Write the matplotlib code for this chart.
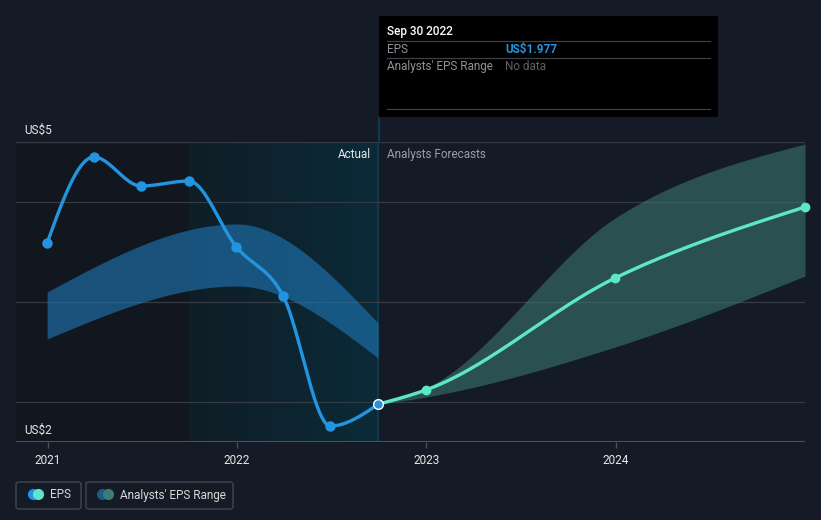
import numpy as np
import matplotlib
matplotlib.use("Agg")
import matplotlib.pyplot as plt
import matplotlib.dates as mdates
from matplotlib.patches import FancyBboxPatch, Rectangle
from matplotlib.colors import LinearSegmentedColormap
import datetime as dt

# --- données ---
eps_dates = ["2020-12-31", "2021-03-31", "2021-06-30", "2021-09-30",
             "2021-12-31", "2022-03-31", "2022-06-30", "2022-09-30"]
eps_values = [3.59, 4.45, 4.16, 4.21, 3.55, 3.06, 1.76, 1.977]

# bande bleue (fourchette historique des analystes)
past_band_dates = ["2020-12-31", "2021-12-31", "2022-09-30"]
past_band_upper = [3.10, 3.78, 2.79]
past_band_lower = [2.63, 3.16, 2.44]

fc_dates = ["2022-09-30", "2022-12-31", "2023-12-31", "2024-12-31"]
fc_values = [1.977, 2.12, 3.24, 3.95]
fc_upper = [1.977, 2.14, 3.84, 4.58]
fc_lower = [1.977, 2.05, 2.55, 3.26]

year_ticks = ["2021", "2022", "2023", "2024"]

BG = "#151b26"
BLUE = "#2394df"
MINT = "#5ee6c9"
GRID = "#353b45"

plt.rcParams['font.family'] = ['Roboto', 'DejaVu Sans']


def to_num(dates):
    return mdates.date2num([dt.datetime.strptime(d, "%Y-%m-%d") for d in dates])


def monotone(x, y, n=80):
    # interpolation monotone (type d3 curveMonotoneX)
    x = np.asarray(x, float)
    y = np.asarray(y, float)
    k = len(x)
    h = np.diff(x)
    s = np.diff(y) / h
    t = np.zeros(k)
    for i in range(1, k - 1):
        p = (s[i - 1] * h[i] + s[i] * h[i - 1]) / (h[i - 1] + h[i])
        t[i] = (np.sign(s[i - 1]) + np.sign(s[i])) * min(abs(s[i - 1]), abs(s[i]), 0.5 * abs(p))
    t[0] = (3 * s[0] - t[1]) / 2 if k > 2 else s[0]
    t[-1] = (3 * s[-1] - t[-2]) / 2 if k > 2 else s[-1]
    xs, ys = [], []
    for i in range(k - 1):
        u = np.linspace(0, 1, n)
        h00 = 2 * u**3 - 3 * u**2 + 1
        h10 = u**3 - 2 * u**2 + u
        h01 = -2 * u**3 + 3 * u**2
        h11 = u**3 - u**2
        xs.append(x[i] + u * h[i])
        ys.append(h00 * y[i] + h10 * h[i] * t[i] + h01 * y[i + 1] + h11 * h[i] * t[i + 1])
    return np.concatenate(xs), np.concatenate(ys)


W, H = 821, 520
fig = plt.figure(figsize=(W / 100, H / 100), dpi=100)
fig.patch.set_facecolor(BG)

ax_l, ax_r, ax_t, ax_b = 16, 805, 142, 442
ax = fig.add_axes([ax_l / W, 1 - ax_b / H, (ax_r - ax_l) / W, (ax_b - ax_t) / H])
ax.set_facecolor(BG)

x0 = mdates.date2num(dt.datetime(2020, 11, 1))
x1 = mdates.date2num(dt.datetime(2024, 12, 31))
ax.set_xlim(x0, x1)
ax.set_ylim(1.6, 4.6)

xe = to_num(eps_dates)
xf = to_num(fc_dates)
xb = to_num(past_band_dates)
x_act0 = mdates.date2num(dt.datetime(2021, 9, 30))
x_now = xe[-1]

# zone sombre à gauche, zone "Actual" en dégradé
ax.axvspan(x0, x_act0, color="#12171f", zorder=0, lw=0)
cmap = LinearSegmentedColormap.from_list("act", ["#0f1e27", "#0b2a38"])
ax.imshow(np.linspace(0, 1, 100).reshape(1, -1), cmap=cmap, aspect="auto",
          extent=[x_act0, x_now, 1.6, 4.6], zorder=0.5)
ax.axvline(x_now, color="#12394b", lw=1.5, zorder=0.8)

# grille
for v in [2, 3, 4, 4.6]:
    ax.axhline(v, color=GRID, lw=0.9, zorder=1)

# bande bleue
bx, bu = monotone(xb, past_band_upper)
_, bl = monotone(xb, past_band_lower)
ax.fill_between(bx, bl, bu, color="#1f78b8", alpha=0.6, lw=0, zorder=2)

# bande prévisions
fx, fu = monotone(xf, fc_upper)
_, fl = monotone(xf, fc_lower)
ax.fill_between(fx, fl, fu, color="#3d7d78", alpha=0.55, lw=0, zorder=2)

# lignes
ex, ey = monotone(xe, eps_values)
ax.plot(ex, ey, color=BLUE, lw=2.4, zorder=4, solid_capstyle="round")
ax.plot(xe[:-1], eps_values[:-1], "o", color=BLUE, ms=6.5, zorder=5)
gx, gy = monotone(xf, fc_values)
ax.plot(gx, gy, color=MINT, lw=2.4, zorder=4, solid_capstyle="round")
ax.plot(xf[1:], fc_values[1:], "o", color=MINT, ms=6, zorder=5, clip_on=False)
ax.plot([x_now], [eps_values[-1]], "o", color=BLUE, ms=7, mec="white", mew=1.0, zorder=6)

# axes
for sp in ax.spines.values():
    sp.set_visible(False)
ax.axhline(1.6, color="#4a505a", lw=1.5, zorder=3)
ax.set_yticks([])
ax.set_xticks(to_num([y + "-01-01" for y in year_ticks]))
ax.set_xticklabels(year_ticks)
ax.tick_params(axis="x", colors="#4a505a", length=4, width=1, labelcolor="#e8e8e8",
               labelsize=8.5, pad=5)

# ligne verticale au-dessus du graphique, jusqu'à l'infobulle
fig.add_artist(plt.Line2D([379 / W, 379 / W], [1 - 117 / H, 1 - ax_t / H],
                          color="#12394b", lw=1.5))

def ftext(x, y, s, **kw):
    fig.text(x / W, 1 - y / H, s, va="center", **kw)

ftext(24, 130, "US$5", color="#e8e8e8", fontsize=8.5)
ftext(24, 430, "US$2", color="#e8e8e8", fontsize=8.5)
ftext(371, 154, "Actual", color="#e8e8e8", fontsize=8.5, ha="right")
ftext(387, 154, "Analysts Forecasts", color="#9a9ea5", fontsize=8.5)

# infobulle
fig.patches.append(Rectangle((379 / W, 1 - 117 / H), (718 - 379) / W, (117 - 16) / H,
                             transform=fig.transFigure, facecolor="black", edgecolor="none", zorder=10))
for yy in [41, 58, 109]:
    fig.add_artist(plt.Line2D([387 / W, 710 / W], [1 - yy / H] * 2, color="#3c3f44", lw=0.9, zorder=11))
ftext(387, 31, "Sep 30 2022", color="white", fontsize=8.5, fontweight="medium", zorder=12)
ftext(387, 49.5, "EPS", color="#8f9298", fontsize=8.5, zorder=12)
ftext(505, 49.5, "US$1.977", color=BLUE, fontsize=8.5, fontweight="bold", zorder=12)
ftext(387, 66.5, "Analysts' EPS Range", color="#8f9298", fontsize=8.5, zorder=12)
ftext(505, 66.5, "No data", color="#5e6167", fontsize=8.5, zorder=12)

# légende
for bx0, bx1 in [(16, 81), (86, 233)]:
    fig.patches.append(FancyBboxPatch((bx0 / W, 1 - 509 / H), (bx1 - bx0) / W, 27 / H,
                                      boxstyle="round,pad=0,rounding_size=0.004",
                                      transform=fig.transFigure, facecolor="none",
                                      edgecolor="#41464f", lw=1))
fig.add_artist(plt.Line2D([33 / W], [1 - 494 / H], marker="o", ms=7, color=BLUE, lw=0))
fig.add_artist(plt.Line2D([38 / W], [1 - 494 / H], marker="o", ms=7, color=MINT, lw=0))
fig.add_artist(plt.Line2D([102 / W], [1 - 494 / H], marker="o", ms=7, color="#1d5a86", lw=0))
fig.add_artist(plt.Line2D([108 / W], [1 - 494 / H], marker="o", ms=7, color="#3b7c77", lw=0))
ftext(50, 495, "EPS", color="#d8d8d8", fontsize=8.5)
ftext(120, 495, "Analysts' EPS Range", color="#d8d8d8", fontsize=8.5)

fig.savefig("out.png", dpi=100, facecolor=BG)
